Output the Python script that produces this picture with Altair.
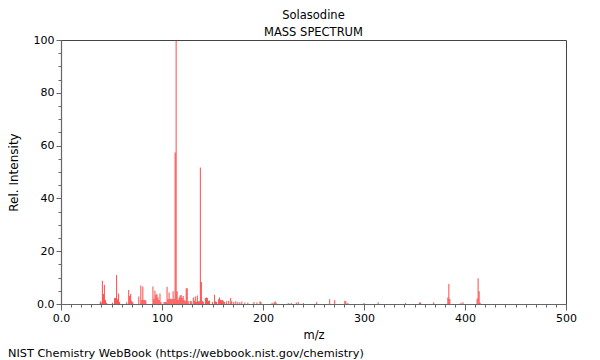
import altair as alt
import pandas as pd

title_main = "Solasodine"
title_sub = "MASS SPECTRUM"
footer = "NIST Chemistry WebBook (https://webbook.nist.gov/chemistry)"

mz = [39, 40, 41, 42, 43, 44, 45, 51, 53, 54, 55, 56, 57, 58, 65, 67, 68, 69, 70, 71,
      77, 79, 80, 81, 82, 83, 84, 91, 92, 93, 94, 95, 96, 97, 98, 99, 102, 103, 104,
      105, 106, 107, 108, 109, 110, 111, 112, 113, 114, 115, 116, 117, 118, 119, 120,
      121, 122, 123, 124, 125, 126, 128, 129, 131, 132, 133, 134, 135, 136, 137, 138,
      139, 140, 141, 143, 144, 145, 146, 147, 150, 152, 153, 154, 156, 157, 158, 159,
      160, 161, 162, 164, 166, 168, 169, 171, 173, 175, 177, 179, 182, 185, 191, 194,
      197, 198, 209, 211, 212, 213, 225, 228, 233, 235, 240, 253, 266, 271, 281, 282,
      284, 300, 314, 341, 355, 356, 369, 383, 384, 385, 396, 398, 412, 413, 414, 415]
intensity = [1.0, 0.5, 8.8, 3.8, 7.3, 1.5, 0.5, 0.5, 2.3, 2.3, 11.0, 1.8, 4.0, 0.8, 0.7, 5.3, 3.0, 3.8, 1.2, 0.8,
             2.8, 7.0, 1.5, 6.6, 1.5, 1.5, 1.3, 6.6, 2.0, 5.0, 3.5, 3.8, 2.5, 1.5, 4.0, 0.8, 0.8, 0.8, 0.8,
             6.5, 1.8, 4.4, 2.0, 2.0, 1.8, 4.8, 2.0, 57.4, 100.0, 4.8, 1.5, 2.5, 3.2, 3.4, 2.3,
             3.0, 1.5, 1.0, 6.0, 6.0, 1.0, 1.2, 1.0, 2.5, 1.2, 2.8, 0.8, 3.2, 1.0, 1.0, 51.7,
             8.3, 1.2, 0.8, 2.3, 2.5, 2.3, 1.2, 1.3, 0.8, 3.5, 1.0, 0.8, 1.8, 2.5, 1.5, 1.4,
             1.5, 1.0, 0.8, 1.0, 1.2, 2.3, 1.0, 0.8, 1.0, 0.8, 0.7, 0.9, 0.6, 0.6, 0.8, 0.6,
             1.0, 0.8, 0.5, 0.6, 1.0, 0.5, 0.4, 0.4, 0.6, 0.8, 0.4, 0.7, 1.8, 1.5, 1.2, 1.0,
             0.4, 0.4, 0.7, 0.4, 0.6, 0.6, 0.7, 2.5, 7.6, 1.9, 0.5, 0.7, 2.0, 9.8, 4.8, 0.5]

x_major = [0, 100, 200, 300, 400, 500]
x_minor = list(range(0, 501, 10))
y_major = [0, 20, 40, 60, 80, 100]
y_minor = list(range(0, 101, 5))

df = pd.DataFrame({"mz": mz, "intensity": intensity})

FONT = "DejaVu Sans"
xs = alt.Scale(domain=[0, 500], nice=False, zero=False)
ys = alt.Scale(domain=[0, 100], nice=False)

spectrum = alt.Chart(df).mark_rule(color="#ff0000", opacity=0.65, strokeWidth=1.1).encode(
    x=alt.X("mz:Q", scale=xs, axis=alt.Axis(
        values=x_major, title="m/z", orient="bottom", tickSize=6, labelPadding=2,
        labelFlush=False, titleFontSize=11.5,
        labelExpr="datum.value == 0 ? '0.0' : datum.label", titlePadding=6)),
    y=alt.Y("intensity:Q", scale=ys, axis=alt.Axis(
        values=y_major, title="Rel. Intensity", orient="left", tickSize=5, labelPadding=2,
        labelFlush=False, titleFontSize=12,
        labelExpr="datum.value == 0 ? '0.0' : datum.label", titlePadding=13)),
    y2=alt.datum(0),
)

minor = alt.Chart(df).mark_point(opacity=0).encode(
    x=alt.X("mz:Q", scale=xs, axis=alt.Axis(
        values=x_minor, title=None, orient="bottom", tickSize=3, labels=False, domain=False)),
    y=alt.Y("intensity:Q", scale=ys, axis=alt.Axis(
        values=y_minor, title=None, orient="left", tickSize=3, labels=False, domain=False)),
)

foot = alt.Chart(pd.DataFrame({"t": [footer]})).mark_text(
    align="left", baseline="middle", fontSize=11.3, font=FONT, color="black"
).encode(text="t:N", x=alt.value(-53), y=alt.value(314))

chart = alt.layer(spectrum, minor, foot).resolve_scale(x="independent", y="independent").properties(
    width=505, height=264,
    autosize=alt.AutoSizeParams(type="none"),
    padding={"left": 53, "top": 32, "right": 26, "bottom": 60},
    title=alt.TitleParams(text=title_main, subtitle=title_sub, fontSize=11.5, subtitleFontSize=11.5,
                          font=FONT, subtitleFont=FONT, fontWeight="normal", color="black",
                          subtitleColor="black", anchor="middle", offset=-4, subtitlePadding=5),
).configure_view(stroke="#444", strokeWidth=1).configure_axis(
    grid=False, labelFont=FONT, titleFont=FONT, labelFontSize=11, titleFontSize=11,
    titleFontWeight="normal", labelColor="black", titleColor="black",
    domainColor="#666", tickColor="#666", domainWidth=1.2,
)

chart.save("out.html", embed_options={"renderer": "svg", "actions": False})
